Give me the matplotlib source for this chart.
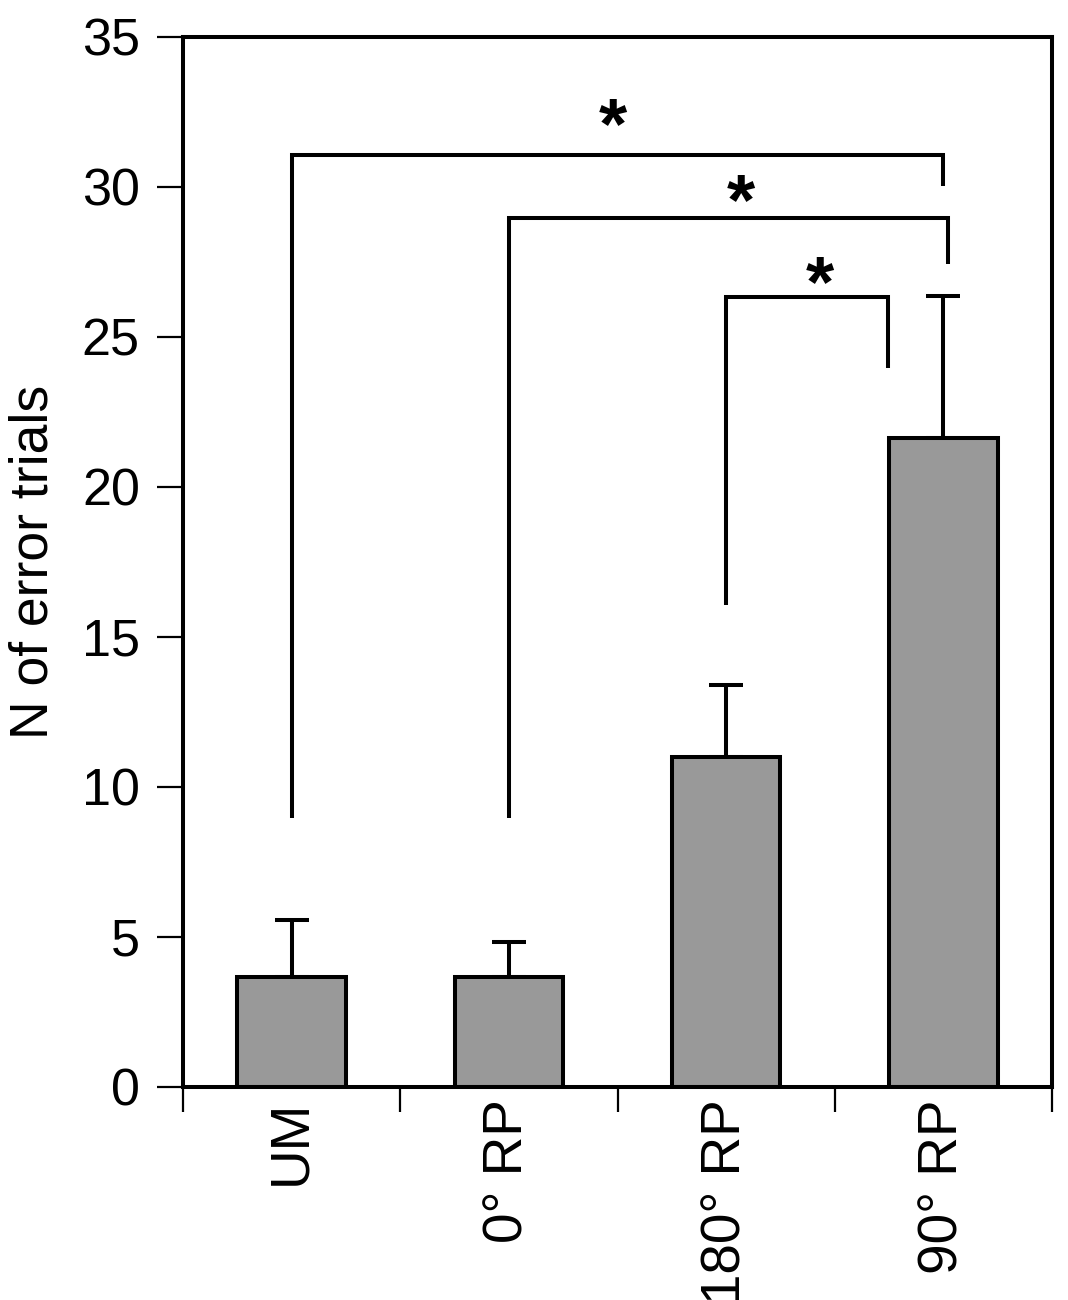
import matplotlib
matplotlib.use("Agg")
import matplotlib.pyplot as plt
import numpy as np
from matplotlib.ticker import FixedLocator, NullFormatter

plt.rcParams['font.family'] = ['Liberation Sans', 'DejaVu Sans']

categories = ["UM", "0° RP", "180° RP", "90° RP"]
means = [3.67, 3.67, 11.0, 21.63]
err_upper = [1.90, 1.16, 2.40, 4.74]

# significance brackets: (left x, right x, top y, left bottom, right bottom)
br_left_x = [0.5, 1.5, 2.5]
br_right_x = [3.5, 3.52, 3.245]
br_top = [31.07, 28.97, 26.35]
br_left_bottom = [8.97, 8.97, 16.07]
br_right_bottom = [30.05, 27.45, 23.97]
star_x = [1.98, 2.57, 2.93]
star_y = [31.3, 28.78, 26.03]

LW = 2.9

fig = plt.figure(figsize=(10.68, 13), dpi=100)
ax = fig.add_axes([183/1068, 1-1087/1300, (1052-183)/1068, (1087-37)/1300])

x = np.arange(len(categories)) + 0.5
ax.bar(x, means, width=0.5, color="#999999", edgecolor="black", linewidth=LW, zorder=2)
ax.errorbar(x, means, yerr=[np.zeros(len(means)), err_upper], fmt='none',
            ecolor='black', elinewidth=LW, capsize=12.5, capthick=LW, zorder=1)

for lx, rx, ty, lb, rb in zip(br_left_x, br_right_x, br_top, br_left_bottom, br_right_bottom):
    ax.plot([lx, lx, rx, rx], [lb, ty, ty, rb], color='black', lw=LW,
            solid_joinstyle='miter', solid_capstyle='butt')

for sx, sy in zip(star_x, star_y):
    ax.text(sx, sy, "*", ha='center', va='baseline', fontsize=52, fontweight='bold')

ax.set_xlim(0, 4)
ax.set_ylim(0, 35)
ax.set_yticks(np.arange(0, 36, 5))
ax.tick_params(axis='y', direction='out', length=19, width=1.6, labelsize=37.5, pad=12)

ax.xaxis.set_major_locator(FixedLocator(x))
ax.set_xticklabels(categories, rotation=90, fontsize=39.5, va='top')
ax.xaxis.set_minor_locator(FixedLocator([0, 1, 2, 3, 4]))
ax.xaxis.set_minor_formatter(NullFormatter())
ax.tick_params(axis='x', which='major', length=0, pad=9)
ax.tick_params(axis='x', which='minor', direction='out', length=18, width=1.6)

for s in ax.spines.values():
    s.set_linewidth(LW)

ax.set_ylabel("N of error trials", fontsize=38.5, labelpad=17)

fig.savefig("out.png", dpi=100)
